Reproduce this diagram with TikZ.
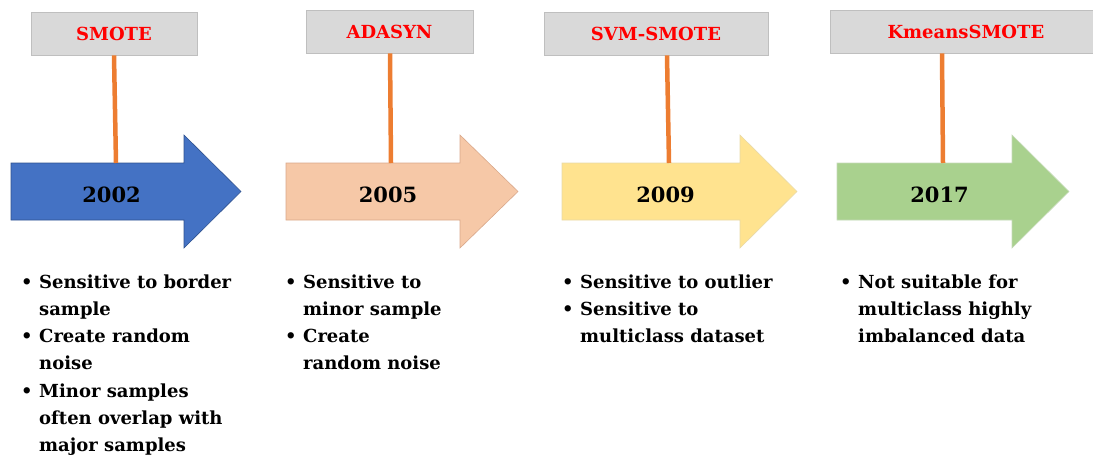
\documentclass[tikz,border=0pt]{standalone}
\usepackage{fontspec}
\setmainfont{DejaVu Serif}
\definecolor{boxfill}{HTML}{D9D9D9}
\definecolor{boxdraw}{HTML}{BFBFBF}
\definecolor{conn}{HTML}{ED7D31}
\definecolor{ablue}{HTML}{4472C4}
\definecolor{ablueb}{HTML}{2F528F}
\definecolor{apeach}{HTML}{F6C8A7}
\definecolor{apeachb}{HTML}{D9A88A}
\definecolor{ayellow}{HTML}{FFE38F}
\definecolor{ayellowb}{HTML}{E8D9A8}
\definecolor{agreen}{HTML}{A9D18E}
\definecolor{agreenb}{HTML}{C5D9B8}
\newcommand\bl{\makebox[18pt][l]{\textbullet}}
\newcommand\ind{\hspace*{18pt}}
\begin{document}
\begin{tikzpicture}[x=1pt,y=-1pt,
  labelbox/.style={draw=boxdraw, fill=boxfill, line width=0.8pt, text=red,
    font=\fontsize{18}{20}\selectfont\bfseries, inner sep=0pt, minimum height=43pt},
  year/.style={font=\fontsize{21}{22}\selectfont\bfseries, text=black, inner sep=0pt},
  connector/.style={draw=conn, line width=4.5pt},
  notes/.style={anchor=base west, inner sep=0pt, font=\fontsize{18}{27.3}\selectfont\bfseries},
  tl/.style={line width=0.6pt, line join=miter}
]
\useasboundingbox (0,0) rectangle (1093,455);

% arrows
\newcommand\tlarrow[5]{%
  \filldraw[tl, fill=#4, draw=#5] (#1,163) -- (#2,163) -- (#2,135) -- (#3,191.5) -- (#2,248) -- (#2,220) -- (#1,220) -- cycle;}
\tlarrow{11}{184}{241}{ablue}{ablueb}
\tlarrow{286}{460}{518}{apeach}{apeachb}
\tlarrow{562}{740}{797}{ayellow}{ayellowb}
\tlarrow{837}{1012}{1069}{agreen}{agreenb}

\coordinate (t1) at (116,163);
\coordinate (t2) at (391,163);
\coordinate (t3) at (669,163);
\coordinate (t4) at (943,163);

% label boxes
\node[labelbox, minimum width=166pt] (b1) at (114,33.5) {SMOTE};
\node[labelbox, minimum width=167pt] (b2) at (389.5,31.5) {ADASYN};
\node[labelbox, minimum width=224pt] (b3) at (656,33.5) {SVM-SMOTE};
\node[labelbox, minimum width=270pt, text width=263pt, align=left] (b4) at (965,31.5) {\hspace*{54pt}KmeansSMOTE};

% connectors
\draw[connector] (b1.south -| 114,0) -- (t1);
\draw[connector] (b2.south -| 390,0) -- (t2);
\draw[connector] (b3.south -| 667,0) -- (t3);
\draw[connector] (b4.south -| 942,0) -- (t4);

% years
\node[year] (y1) at (111.5,194.5) {2002};
\node[year] (y2) at (388,194.5) {2005};
\node[year] (y3) at (665.5,194.5) {2009};
\node[year] (y4) at (939.5,194.5) {2017};

% notes
\node[notes] (n1) at (21,288) {\begin{tabular}[t]{@{}l@{}}
\bl Sensitive to border\\ \ind sample\\
\bl Create random\\ \ind noise\\
\bl Minor samples\\ \ind often overlap with\\ \ind major samples
\end{tabular}};
\node[notes] (n2) at (285,288) {\begin{tabular}[t]{@{}l@{}}
\bl Sensitive to\\ \ind minor sample\\
\bl Create\\ \ind random noise
\end{tabular}};
\node[notes] (n3) at (562,288) {\begin{tabular}[t]{@{}l@{}}
\bl Sensitive to outlier\\
\bl Sensitive to\\ \ind multiclass dataset
\end{tabular}};
\node[notes] (n4) at (840,288) {\begin{tabular}[t]{@{}l@{}}
\bl Not suitable for\\ \ind multiclass highly\\ \ind imbalanced data
\end{tabular}};
\end{tikzpicture}
\end{document}
